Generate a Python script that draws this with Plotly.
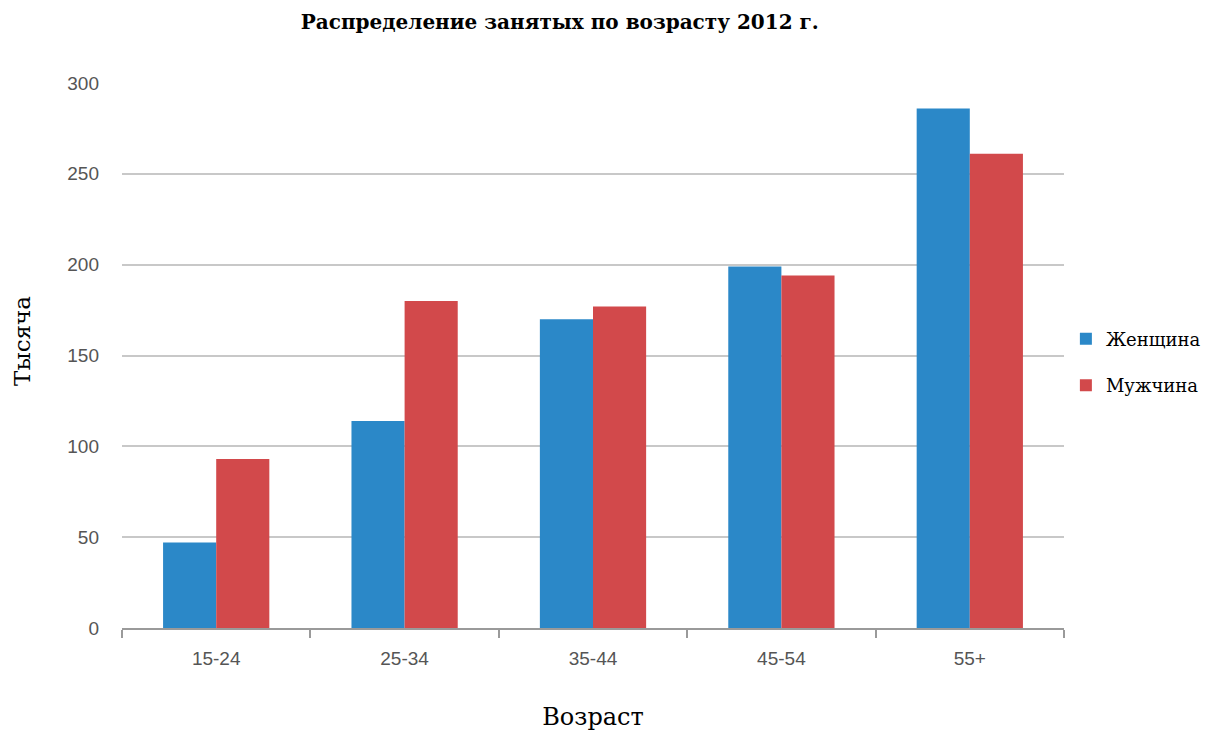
import plotly.graph_objects as go

categories = ["15-24", "25-34", "35-44", "45-54", "55+"]
women = [47, 114, 170, 199, 286]
men = [93, 180, 177, 194, 261]
y_ticks = [0, 50, 100, 150, 200, 250, 300]

serif = "DejaVu Serif, Liberation Serif, serif"
sans = "Liberation Sans, Arial, sans-serif"

fig = go.Figure()
fig.add_trace(go.Bar(name="Женщина", x=categories, y=women, legendgroup="w",
                     marker=dict(color="#2b88c8", line=dict(width=0))))
fig.add_trace(go.Bar(name="Мужчина", x=categories, y=men, legendgroup="m",
                     marker=dict(color="#d2494b", line=dict(width=0))))

fig.update_layout(
    width=1210, height=736,
    paper_bgcolor="white", plot_bgcolor="white",
    barmode="group", bargap=0.436, bargroupgap=0,
    margin=dict(l=114, r=152, t=75, b=116),
    title=dict(text="<b>Распределение занятых по возрасту 2012 г.</b>",
               x=0.456, xanchor="center", y=0.981, yanchor="middle",
               font=dict(family=serif, size=20, color="black")),
    legend=dict(x=1.002, xanchor="left", y=0.488, yanchor="middle",
                font=dict(family=serif, size=18, color="black"),
                tracegroupgap=20, itemsizing="constant"),
    xaxis=dict(
        title=dict(text="Возраст", font=dict(family=serif, size=24, color="black"), standoff=40),
        tickfont=dict(family=sans, size=19, color="#555555"),
        showline=True, linecolor="#9a9a9a", linewidth=2,
        ticks="outside", tickson="boundaries", ticklen=8, tickcolor="#9a9a9a", tickwidth=2,
        showgrid=False, ticklabelstandoff=12,
    ),
    yaxis=dict(
        range=[0, 300], tickvals=y_ticks,
        tickfont=dict(family=sans, size=19, color="#555555"),
        showgrid=True, gridcolor="#c8c8c8", gridwidth=2,
        zeroline=False, showline=False, ticks="", ticklabelstandoff=22,
    ),
    annotations=[dict(text="Тысяча", textangle=-90, xref="paper", yref="paper",
                      x=-0.106, y=0.527, xanchor="center", yanchor="middle",
                      showarrow=False, font=dict(family=serif, size=23, color="black"))],
)

fig.write_html("out.html")
